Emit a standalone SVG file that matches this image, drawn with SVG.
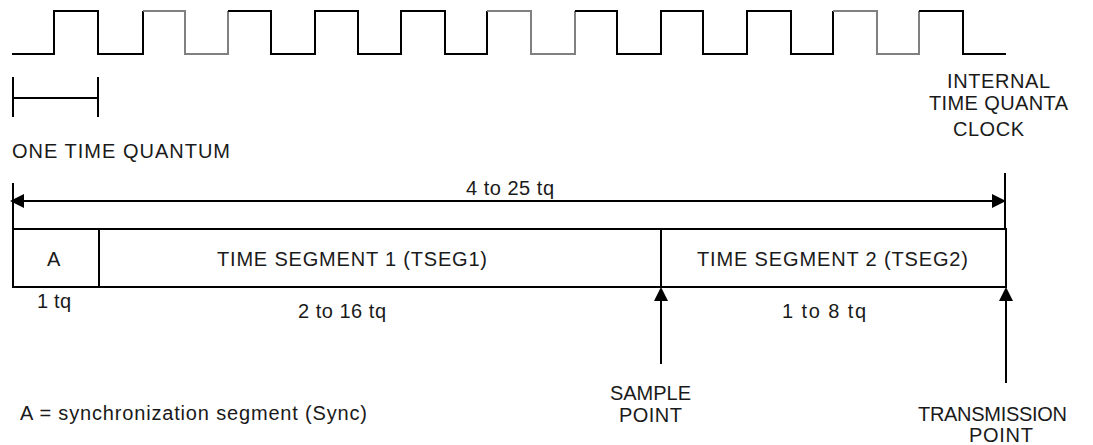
<svg xmlns="http://www.w3.org/2000/svg" width="1093" height="445" viewBox="0 0 1093 445">
<style>
  .ln { fill: none; stroke: #000; stroke-width: 2; }
  .gray { fill: none; stroke: #808080; stroke-width: 2; }
  .box { fill: #fff; stroke: #000; stroke-width: 2; }
  text { font-family: "Liberation Sans", Arial, sans-serif; font-size: 20px; fill: #1a1a1a; }
</style>
<defs>
  <marker id="tri" viewBox="0 -7 14 14" refX="0" refY="0" markerUnits="userSpaceOnUse" markerWidth="14" markerHeight="14" orient="auto-start-reverse">
    <path d="M0,-7 L14,0 L0,7 z" fill="#000"/>
  </marker>
</defs>
<rect width="1093" height="445" fill="#fff"/>

<g id="clock">
  <polyline class="ln" points="12,54 54,54 54,11 98,11 98,54 143,54 143,11"/>
  <polyline class="gray" points="143,11 185,11 185,54 228,54 228,11"/>
  <polyline class="ln" points="228,11 271,11 271,54 315,54 315,11 358,11 358,54 401,54 401,11 445,11 445,54 487,54 487,11"/>
  <polyline class="gray" points="487,11 531,11 531,54 575,54 575,11"/>
  <polyline class="ln" points="575,11 617,11 617,54 661,54 661,11 703,11 703,54 747,54 747,11 791,11 791,54 833,54 833,11"/>
  <polyline class="gray" points="833,11 877,11 877,54 919,54 919,11"/>
  <polyline class="ln" points="919,11 963,11 963,54 1006,54"/>
  <g id="clock-label">
    <text x="947" y="88" textLength="103" lengthAdjust="spacing">INTERNAL</text>
    <text x="929" y="110" textLength="139" lengthAdjust="spacing">TIME QUANTA</text>
    <text x="953" y="136" textLength="71" lengthAdjust="spacing">CLOCK</text>
  </g>
</g>

<g id="time-quantum">
  <path class="ln" d="M13,77 V117 M98,77 V117 M13,98 H98"/>
  <text x="12" y="158" textLength="218" lengthAdjust="spacing">ONE TIME QUANTUM</text>
</g>

<g id="seg-sync">
  <rect class="box" x="13" y="229" width="86" height="58"/>
  <text x="47" y="266">A</text>
  <text x="37" y="308" textLength="34" lengthAdjust="spacing">1 tq</text>
</g>
<g id="seg-tseg1">
  <rect class="box" x="99" y="229" width="562" height="58"/>
  <text x="217" y="266" textLength="270" lengthAdjust="spacing">TIME SEGMENT 1 (TSEG1)</text>
  <text x="298" y="318" textLength="88" lengthAdjust="spacing">2 to 16 tq</text>
</g>
<g id="seg-tseg2">
  <rect class="box" x="661" y="229" width="345" height="58"/>
  <text x="697" y="266" textLength="271" lengthAdjust="spacing">TIME SEGMENT 2 (TSEG2)</text>
  <text x="782" y="318" textLength="84" lengthAdjust="spacing">1 to 8 tq</text>
</g>

<g id="connectors">
  <path class="ln" d="M13,183 V229 M1005,173 V229"/>
  <line class="ln" x1="24" y1="201" x2="992" y2="201" marker-start="url(#tri)" marker-end="url(#tri)"/>
  <line class="ln" x1="661" y1="364" x2="661" y2="301" marker-end="url(#tri)"/>
  <line class="ln" x1="1006" y1="383" x2="1006" y2="301" marker-end="url(#tri)"/>
</g>

<g id="range-label">
  <text x="466" y="195" textLength="88" lengthAdjust="spacing">4 to 25 tq</text>
</g>

<g id="sample-point">
  <text x="610" y="400" textLength="81" lengthAdjust="spacing">SAMPLE</text>
  <text x="619" y="422" textLength="63" lengthAdjust="spacing">POINT</text>
</g>
<g id="transmission-point">
  <text x="918" y="421" textLength="149" lengthAdjust="spacing">TRANSMISSION</text>
  <text x="969" y="442" textLength="64" lengthAdjust="spacing">POINT</text>
</g>
<g id="legend">
  <text x="20" y="420" textLength="347" lengthAdjust="spacing">A = synchronization segment (Sync)</text>
</g>
</svg>
